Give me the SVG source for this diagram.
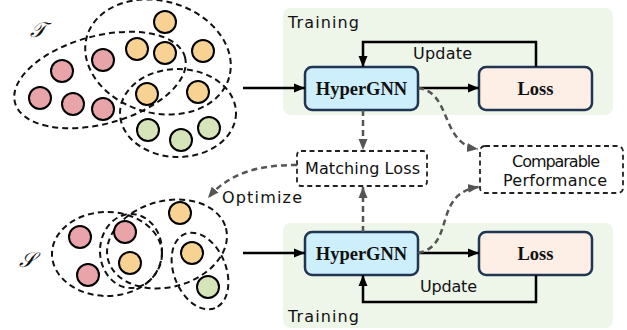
<svg xmlns="http://www.w3.org/2000/svg" width="627" height="330" viewBox="0 0 627 330">
<style>
.bg{fill:#eef5e9;stroke:none}
.gnn{fill:#cdeefb;stroke:#1f3554;stroke-width:2.5}
.loss{fill:#fdeee6;stroke:#1f3554;stroke-width:2.5}
.dbox{fill:#fff;stroke:#222;stroke-width:1.8;stroke-dasharray:5,3.5}
.bold{font-family:"Liberation Serif","Times New Roman",serif;font-weight:bold;font-size:18.5px;fill:#111;text-anchor:middle}
.lbl{font-family:"DejaVu Sans","Liberation Sans",sans-serif;font-size:16px;fill:#111}
.solid{fill:none;stroke:#000;stroke-width:2.5}
.dash{fill:none;stroke:#555;stroke-width:2.5;stroke-dasharray:6,4}
.he{fill:none;stroke:#111;stroke-width:2;stroke-dasharray:6,4}
.r{fill:#e8a4a9;stroke:#000;stroke-width:2}
.o{fill:#f7d293;stroke:#000;stroke-width:2}
.g{fill:#d6e4ba;stroke:#000;stroke-width:2}
.sym{font-family:"DejaVu Serif","Liberation Serif",serif;font-style:italic;font-size:21px;fill:#111}
</style>
<defs>
<marker id="ab" markerUnits="userSpaceOnUse" markerWidth="12" markerHeight="12" viewBox="0 0 12 12" refX="11" refY="6" orient="auto"><path d="M0,1.5 L11,6 L0,10.5 Z" fill="#000"/></marker>
<marker id="ag" markerUnits="userSpaceOnUse" markerWidth="12" markerHeight="12" viewBox="0 0 12 12" refX="11" refY="6" orient="auto"><path d="M0,1.5 L11,6 L0,10.5 Z" fill="#555"/></marker>
</defs>

<g id="bg-top"><rect class="bg" x="283" y="8" width="330" height="107" rx="8"/><text class="lbl" x="288" y="28" textLength="71">Training</text></g>
<g id="bg-bottom"><rect class="bg" x="283" y="223" width="330" height="105" rx="8"/><text class="lbl" x="288" y="322" textLength="71">Training</text></g>

<g id="hypergraph-T">
<text class="sym" x="30" y="37">𝒯</text>
<ellipse class="he" cx="100" cy="80" rx="88" ry="44" transform="rotate(-15 100 80)"/>
<ellipse class="he" cx="158" cy="57" rx="74" ry="56" transform="rotate(16 158 57)"/>
<ellipse class="he" cx="178" cy="113" rx="58" ry="44"/>
<circle class="o" cx="165" cy="22" r="11"/>
<circle class="o" cx="137" cy="49" r="11"/>
<circle class="o" cx="165" cy="53" r="11"/>
<circle class="o" cx="203" cy="51" r="11"/>
<circle class="o" cx="147" cy="94" r="11"/>
<circle class="o" cx="198" cy="92" r="11"/>
<circle class="r" cx="103" cy="60" r="11"/>
<circle class="r" cx="62" cy="71" r="11"/>
<circle class="r" cx="40" cy="98" r="11"/>
<circle class="r" cx="73" cy="104" r="11"/>
<circle class="r" cx="103" cy="109" r="11"/>
<circle class="g" cx="148" cy="130" r="11"/>
<circle class="g" cx="181" cy="140" r="11"/>
<circle class="g" cx="209" cy="128" r="11"/>
</g>

<g id="hypergraph-S">
<text class="sym" x="19" y="267">𝒮</text>
<ellipse class="he" cx="107" cy="254" rx="55" ry="42"/>
<ellipse class="he" cx="131" cy="251" rx="31" ry="37"/>
<ellipse class="he" cx="167" cy="244" rx="61" ry="43" transform="rotate(-15 167 244)"/>
<ellipse class="he" cx="200" cy="271" rx="40" ry="26" transform="rotate(68 200 271)"/>
<circle class="r" cx="80" cy="237" r="11"/>
<circle class="r" cx="125" cy="232" r="11"/>
<circle class="o" cx="180" cy="213" r="11"/>
<circle class="o" cx="130" cy="263" r="11"/>
<circle class="r" cx="88" cy="275" r="11"/>
<circle class="o" cx="192" cy="253" r="11"/>
<circle class="g" cx="208" cy="287" r="11"/>
</g>

<g id="hypergnn-top"><rect class="gnn" x="305" y="67" width="113" height="43" rx="7"/><text class="bold" x="361.5" y="95">HyperGNN</text></g>
<g id="loss-top"><rect class="loss" x="479" y="67" width="113" height="43" rx="7"/><text class="bold" x="535.5" y="95">Loss</text></g>
<g id="hypergnn-bottom"><rect class="gnn" x="305" y="232" width="113" height="43" rx="7"/><text class="bold" x="361.5" y="260">HyperGNN</text></g>
<g id="loss-bottom"><rect class="loss" x="479" y="232" width="113" height="43" rx="7"/><text class="bold" x="535.5" y="260">Loss</text></g>
<g id="matching-loss"><rect class="dbox" x="297" y="151" width="130" height="35" rx="4"/><text class="lbl" x="305" y="174" textLength="115">Matching Loss</text></g>
<g id="comparable"><rect class="dbox" x="480" y="146" width="143" height="47" rx="5"/><text class="lbl" x="512" y="167" textLength="88">Comparable</text><text class="lbl" x="503" y="186" textLength="104">Performance</text></g>

<g id="connectors">
<line class="solid" x1="243" y1="88" x2="305" y2="88" marker-end="url(#ab)"/>
<line class="solid" x1="418" y1="88" x2="479" y2="88" marker-end="url(#ab)"/>
<polyline class="solid" points="536,67 536,42 363,42 363,67" marker-end="url(#ab)"/>
<text class="lbl" x="413" y="59" textLength="59">Update</text>
<line class="solid" x1="243" y1="253" x2="305" y2="253" marker-end="url(#ab)"/>
<line class="solid" x1="418" y1="253" x2="479" y2="253" marker-end="url(#ab)"/>
<polyline class="solid" points="536,275 536,302 363,302 363,275" marker-end="url(#ab)"/>
<text class="lbl" x="420" y="292" textLength="57">Update</text>
<line class="dash" x1="363" y1="110" x2="363" y2="150" marker-end="url(#ag)"/>
<line class="dash" x1="363" y1="232" x2="363" y2="187" marker-end="url(#ag)"/>
<path class="dash" d="M418,88 C452,92 440,144 478,149" marker-end="url(#ag)"/>
<path class="dash" d="M418,253 C456,246 432,193 479,187" marker-end="url(#ag)"/>
<path class="dash" d="M297,165 C260,165 230,172 208,198" marker-end="url(#ag)"/>
<text class="lbl" x="222" y="203" textLength="80">Optimize</text>
</g>
</svg>
